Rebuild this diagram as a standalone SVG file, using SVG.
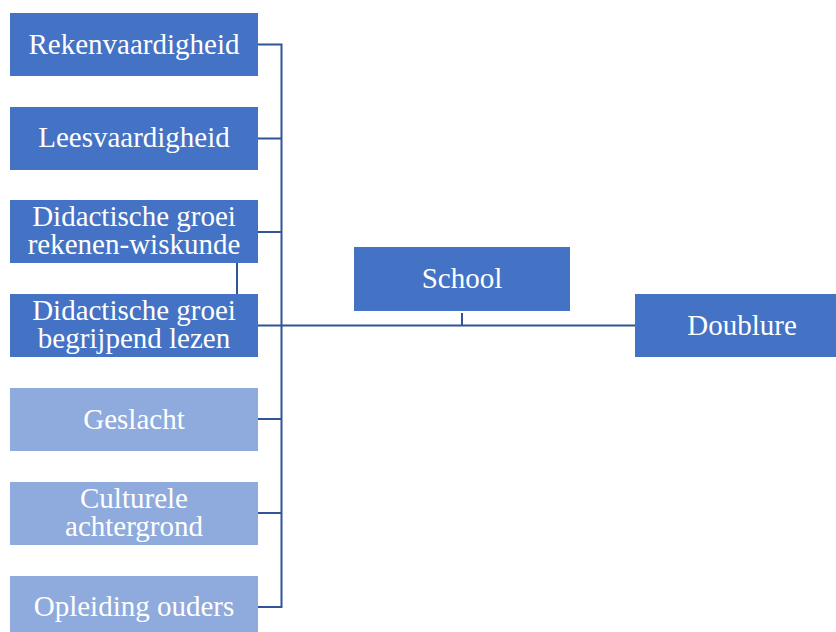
<svg xmlns="http://www.w3.org/2000/svg" width="836" height="632" viewBox="0 0 836 632">
<style>
.d{fill:#4472C4}
.l{fill:#8FAADC}
text{font-family:"Liberation Serif","Times New Roman",serif;font-size:29px;fill:#fff;text-anchor:middle}
.c{stroke:#2F5597;fill:none;stroke-width:2}
</style>
<rect width="836" height="632" fill="#fff"/>
<g id="connectors">
<path class="c" d="M258 44.5H281.5M258 138.5H281.5M258 232H281.5M258 325.5H281.5M258 419H281.5M258 513H281.5M258 607H281.5M281.5 43.5V608"/>
<path class="c" d="M281.5 325.5H635" stroke-width="3"/>
<path class="c" d="M462 313V325"/>
<path class="c" d="M237 263V294"/>
</g>
<g id="n1"><rect class="d" x="10" y="13" width="248" height="63"/><text x="134" y="54">Rekenvaardigheid</text></g>
<g id="n2"><rect class="d" x="10" y="107" width="248" height="63"/><text x="134" y="147">Leesvaardigheid</text></g>
<g id="n3"><rect class="d" x="10" y="200" width="248" height="63"/><text x="134" y="225.5">Didactische groei</text><text x="134" y="254">rekenen-wiskunde</text></g>
<g id="n4"><rect class="d" x="10" y="294" width="248" height="63"/><text x="134" y="319.5">Didactische groei</text><text x="134" y="348">begrijpend lezen</text></g>
<g id="n5"><rect class="l" x="10" y="388" width="248" height="63"/><text x="134" y="428.5">Geslacht</text></g>
<g id="n6"><rect class="l" x="10" y="482" width="248" height="63"/><text x="134" y="507.5">Culturele</text><text x="134" y="536">achtergrond</text></g>
<g id="n7"><rect class="l" x="10" y="576" width="248" height="63"/><text x="134" y="616">Opleiding ouders</text></g>
<g id="school"><rect class="d" x="354" y="247" width="216" height="64"/><text x="462" y="288">School</text></g>
<g id="doublure"><rect class="d" x="635" y="294" width="201" height="63"/><text x="742" y="335">Doublure</text></g>
</svg>
